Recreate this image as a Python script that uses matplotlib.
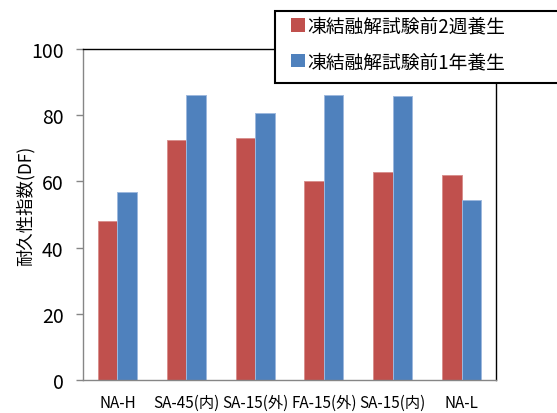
import matplotlib
matplotlib.use("Agg")
import matplotlib.pyplot as plt
import numpy as np
from matplotlib.patches import Rectangle

plt.rcParams['font.family'] = ['Noto Sans CJK JP', 'DejaVu Sans']

categories = ["NA-H", "SA-45(内)", "SA-15(外)", "FA-15(外)", "SA-15(内)", "NA-L"]
series_names = ["凍結融解試験前2週養生", "凍結融解試験前1年養生"]
df_2weeks = [48, 72.6, 73.1, 60, 62.8, 61.9]
df_1year = [56.8, 86.1, 80.6, 86.1, 85.8, 54.4]
yticks = [0, 20, 40, 60, 80, 100]
ylabel = "耐久性指数(DF)"

red = "#C0504D"
blue = "#4F81BD"
red_edge = "#D8908E"
blue_edge = "#9DB8DD"

W, H = 557, 414
fig = plt.figure(figsize=(W / 100, H / 100), dpi=100)
ax = fig.add_axes([83 / W, 33 / H, 413 / W, 331 / H])

x = np.arange(len(categories))
w = 0.283
b1 = ax.bar(x - w / 2, df_2weeks, w, color=red, edgecolor=red_edge,
            linewidth=0.7, label=series_names[0], zorder=2)
b2 = ax.bar(x + w / 2, df_1year, w, color=blue, edgecolor=blue_edge,
            linewidth=0.7, label=series_names[1], zorder=2)

ax.set_xlim(-0.5, len(categories) - 0.5)
ax.set_ylim(0, 100)
ax.set_yticks(yticks)
ax.set_yticklabels([str(v) for v in yticks], fontsize=14)
ax.set_xticks(x)
ax.set_xticklabels(categories, fontsize=11)

ax.tick_params(axis='x', length=0, pad=10)
ax.tick_params(axis='y', length=5, width=1, color="#868686", pad=9)

for side in ("top", "right"):
    ax.spines[side].set_color("black")
    ax.spines[side].set_linewidth(1.0)
for side in ("left", "bottom"):
    ax.spines[side].set_color("#868686")
    ax.spines[side].set_linewidth(1.0)

ax.set_ylabel(ylabel, fontsize=12.5)
ax.yaxis.set_label_coords(-0.118, 0.53)

# legend box, running past the right edge of the figure
box = Rectangle((275 / W, (H - 84) / H), 300 / W, 72 / H,
                transform=fig.transFigure, facecolor="white",
                edgecolor="black", linewidth=1.5, zorder=5)
fig.patches.append(box)

leg = fig.legend(handles=[b1, b2], loc="upper left",
                 bbox_to_anchor=(283 / W, (H - 8) / H), fontsize=13.5,
                 frameon=False,
                 handlelength=0.72, handleheight=0.72, handletextpad=0.15,
                 borderpad=0.45, labelspacing=0.78, borderaxespad=0)
leg.set_zorder(6)
for h in leg.legend_handles:
    h.set_edgecolor("none")

fig.savefig("out.png", dpi=100)
